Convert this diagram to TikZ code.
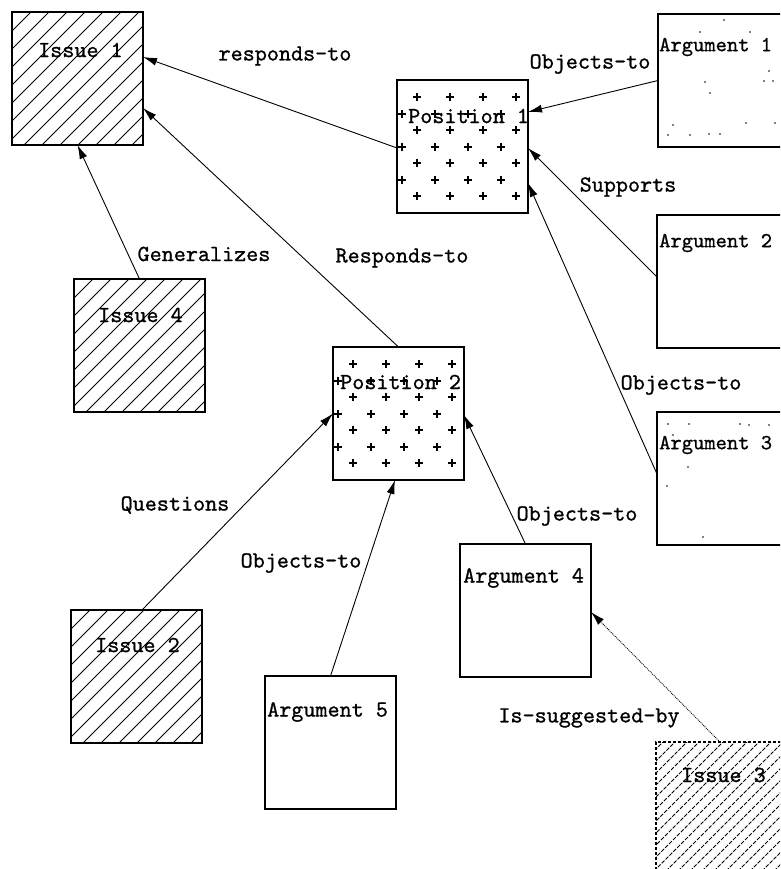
\documentclass[tikz,border=0pt]{standalone}
\usepackage{fontspec}
\usetikzlibrary{arrows.meta,calc}
\newfontfamily\diagfont{lmmono10-regular.otf}[FakeBold=0.9]
\begin{document}
\begin{tikzpicture}[x=1pt,y=-1pt,
  box/.style={draw, line width=1.1pt, minimum width=131pt, minimum height=133pt,
              anchor=north west, inner sep=0pt, outer sep=0pt},
  hatchline/.style={line width=0.8pt},
  plusline/.style={line width=1.3pt},
  hatched/.style={path picture={
      \foreach \k in {-150,-132,...,150}
        \draw[hatchline] ([shift={(\k,0)}]path picture bounding box.south west) -- ++(170,-170);}},
  finehatched/.style={path picture={
      \foreach \k in {-150,-138,...,150}
        \draw[hatchline, dash pattern=on 4pt off 1.5pt] ([shift={(\k,0)}]path picture bounding box.south west) -- ++(170,-170);}},
  plusgrid/.style={path picture={
      \foreach \i in {0,...,3} \foreach \j in {0,...,3}
        \draw[plusline] ([shift={(20+33*\j,17+33*\i)}]path picture bounding box.north west)
          +(-4,0) -- +(4,0) +(0,-4) -- +(0,4);
      \foreach \i in {0,...,2} \foreach \j in {0,...,3}
        \draw[plusline] ([shift={(5+33*\j,34+33*\i)}]path picture bounding box.north west)
          +(-4,0) -- +(4,0) +(0,-4) -- +(0,4);}},
  issue/.style={box, hatched},
  position/.style={box, plusgrid},
  argument/.style={box},
  lbl/.style={font=\diagfont\fontsize{23}{27}\selectfont, inner sep=0pt},
  edgelbl/.style={font=\diagfont\fontsize{21.5}{26}\selectfont, inner sep=0pt},
  link/.style={line width=0.9pt, -{Latex[length=14pt,width=8pt]}},
  speck/.style={fill=black, draw=none}
]
\useasboundingbox (0,0) rectangle (780,869);
\clip (0,0) rectangle (780,869);

% boxes
\node[issue]    (i1) at (12,12)   {};
\node[position] (p1) at (397,80)  {};
\node[argument] (a1) at (658,14)  {};
\node[argument] (a2) at (657,215) {};
\node[argument] (a3) at (657,412) {};
\node[issue]    (i4) at (74,279)  {};
\node[position] (p2) at (333,347) {};
\node[issue]    (i2) at (71,610)  {};
\node[argument] (a5) at (265,676) {};
\node[argument] (a4) at (460,544) {};
\node[box, finehatched, densely dashed] (i3) at (656,742) {};

% sparse specks inside the argument boxes
\foreach \p in {(724,20),(700,32),(750,32),(769,71),(764,81),(773,81),(705,82),(710,93),
                (673,125),(746,123),(668,135),(690,135),(709,134),(720,134),(775,123)}
  \fill[speck] \p circle (0.8);
\foreach \p in {(668,424),(689,424),(740,424),(749,425),(769,425),(673,435),(688,467),(667,486),(703,537)}
  \fill[speck] \p circle (0.8);

% box titles
\node[lbl, anchor=west] (i1t) at (38,50)  {Issue 1};
\node[lbl, anchor=west] (p1t) at (408,116) {Position 1};
\node[edgelbl, anchor=west] (a1t) at (659,47)  {Argument 1};
\node[edgelbl, anchor=west] (a2t) at (659,243) {Argument 2};
\node[edgelbl, anchor=west] (a3t) at (659,445) {Argument 3};
\node[lbl, anchor=west] (i4t) at (98,315) {Issue 4};
\node[lbl, anchor=west] (p2t) at (340,382) {Position 2};
\node[lbl, anchor=west] (i2t) at (95,645)  {Issue 2};
\node[lbl, anchor=west] (a5t) at (267,712) {Argument 5};
\node[lbl, anchor=west] (a4t) at (463,578) {Argument 4};
\node[lbl, anchor=west] (i3t) at (681,775) {Issue 3};

% connectors
\draw[link] ([yshift=-68pt]p1.north west) -- ([yshift=-45pt]i1.north east);
\draw[link] (p2.north) -- ([yshift=-96pt]i1.north east);
\draw[link] (i4.north) -- (i1.south);
\draw[link] (a1.west) -- ([yshift=-32pt]p1.north east);
\draw[link] ([yshift=-62pt]a2.north west) -- ([yshift=-68pt]p1.north east);
\draw[link] ([yshift=-62pt]a3.north west) -- ([yshift=-103pt]p1.north east);
\draw[link] ([xshift=71pt]i2.north west) -- (p2.west);
\draw[link] (a5.north) -- ([xshift=62pt]p2.south west);
\draw[link] (a4.north) -- ([yshift=-68pt]p2.north east);
\draw[link, densely dotted] ([xshift=64pt]i3.north west) -- ([yshift=-68pt]a4.north east);

% connector labels
\node[lbl] (l1)  at (285,56)  {responds-to};
\node[lbl] (l2)  at (590,64)  {Objects-to};
\node[lbl] (l3)  at (628,187) {Supports};
\node[lbl] (l4)  at (204,254) {Generalizes};
\node[lbl] (l5)  at (402,258) {Responds-to};
\node[lbl] (l6)  at (681,385) {Objects-to};
\node[lbl] (l7)  at (175,505) {Questions};
\node[lbl] (l8)  at (577,516) {Objects-to};
\node[lbl] (l9)  at (301,563) {Objects-to};
\node[lbl] (l10) at (589,718) {Is-suggested-by};
\end{tikzpicture}
\end{document}
